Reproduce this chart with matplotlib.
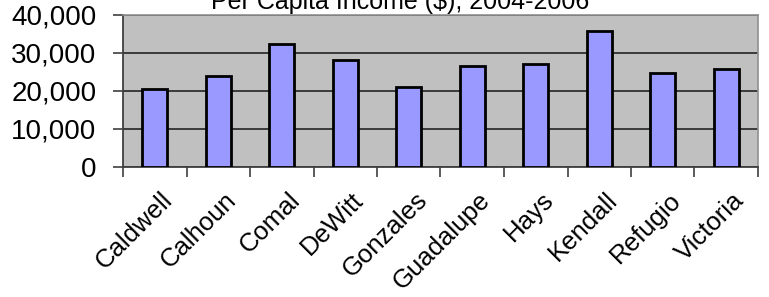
import matplotlib
matplotlib.use("Agg")
import matplotlib.pyplot as plt
from matplotlib.ticker import FuncFormatter, FixedLocator
from matplotlib.transforms import ScaledTranslation

plt.rcParams['font.family'] = ['Liberation Sans', 'DejaVu Sans']

# county values
counties = ["Caldwell", "Calhoun", "Comal", "DeWitt", "Gonzales",
            "Guadalupe", "Hays", "Kendall", "Refugio", "Victoria"]
income = [20500, 24000, 32500, 28100, 21000, 26700, 27200, 35900, 24800, 25800]
yticks = [0, 10000, 20000, 30000, 40000]
title = "Per Capita Income ($), 2004-2006"

fig = plt.figure(figsize=(7.69, 2.97), dpi=100)
ax = fig.add_axes([123 / 769, 1 - 167 / 297, (758 - 123) / 769, (167 - 15) / 297])

ax.set_facecolor("#C0C0C0")
x = list(range(len(counties)))
ax.bar(x, income, width=0.4, color="#9999FF", edgecolor="black", linewidth=2, zorder=3)

ax.set_xlim(-0.5, len(counties) - 0.5)
ax.set_ylim(0, 40000)
ax.set_yticks(yticks)
ax.yaxis.set_major_formatter(FuncFormatter(lambda v, p: f"{int(v):,}"))
ax.grid(axis="y", color="#303030", linewidth=1.3, zorder=1)

# category labels under bars, tick marks at category boundaries
ax.set_xticks(x)
ax.set_xticklabels(counties, rotation=45, ha="right", rotation_mode="anchor", fontsize=18.5)
ax.tick_params(axis="x", which="major", length=0, pad=15)
shift = ScaledTranslation(6 / 100, 0, fig.dpi_scale_trans)
for lab in ax.get_xticklabels():
    lab.set_transform(lab.get_transform() + shift)
ax.xaxis.set_minor_locator(FixedLocator([i - 0.5 for i in range(len(counties) + 1)]))
ax.tick_params(axis="x", which="minor", length=7, width=1.2, color="#404040")
ax.tick_params(axis="y", labelsize=20, length=7, width=1.2, color="#404040", pad=12)

for side in ["top", "right"]:
    ax.spines[side].set_color("#909090")
    ax.spines[side].set_linewidth(1.2)
for side in ["left", "bottom"]:
    ax.spines[side].set_color("#404040")
    ax.spines[side].set_linewidth(1.3)

# title is cut off by the top edge in the original
fig.text(0.52, 1 - 9 / 297, title, ha="center", va="baseline", fontsize=18)

fig.savefig("out.png", dpi=100)
